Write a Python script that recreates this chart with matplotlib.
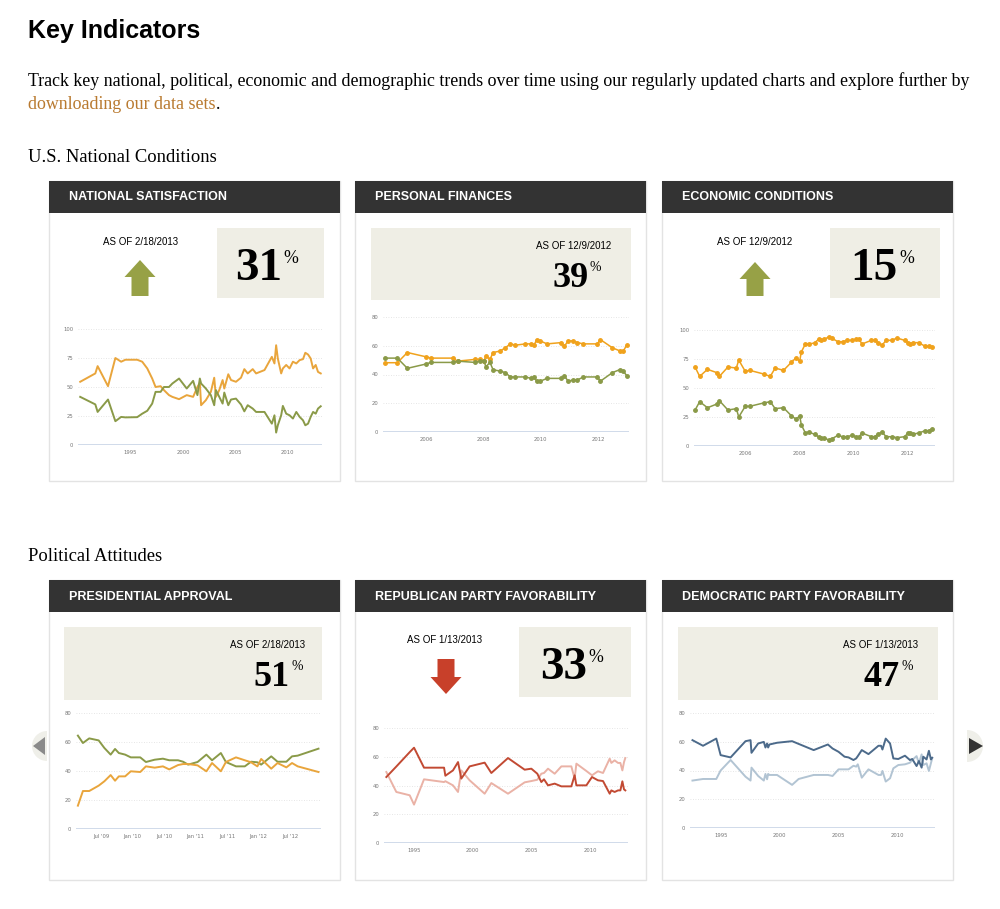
import matplotlib
matplotlib.use('Agg')
import matplotlib.pyplot as plt
import matplotlib.patches as patches
from matplotlib import font_manager

# ---- data ----
# National satisfaction (decimal years)
sat_dates = [1990.21, 1991.65, 1991.87, 1992.86, 1993.56, 1994.11, 1994.52, 1995.64, 1996.12, 1996.60,
             1997.07, 1997.39, 1997.87, 1998.19, 1998.67, 1998.99, 1999.63, 2000.36, 2000.97, 2001.38,
             2001.61, 2001.73, 2002.18, 2002.66, 2002.98, 2003.14, 2003.46, 2003.78, 2003.94, 2004.32,
             2004.58, 2005.05, 2005.53, 2005.85, 2006.17, 2006.65, 2006.97, 2007.77, 2008.47, 2008.72,
             2008.88, 2009.04, 2009.36, 2009.52, 2009.84, 2010.16, 2010.48, 2010.80, 2011.12, 2011.44,
             2011.66, 2011.92, 2012.17, 2012.40, 2012.65, 2012.87, 2013.13]
sat_dissatisfied = [54.5, 61.7, 68, 50.7, 75, 71.8, 73.5, 73.5, 71.8, 66,
                    57.3, 50, 50.7, 47.3, 43, 41.5, 39.5, 43, 41.5, 50,
                    53.6, 34.3, 38.6, 45.8, 58, 41.5, 47.3, 56, 48.7, 61,
                    56, 54.5, 58, 65.4, 61.7, 65.4, 61.7, 64.6, 76, 70.3,
                    86, 74.6, 61.7, 66, 69, 66, 71.8, 70.3, 73.2, 74,
                    79.5, 78, 74.6, 66, 69, 63, 61.7]
sat_satisfied = [41.5, 35, 28.5, 39.2, 20.5, 24.2, 23.8, 24, 27, 29.5,
                 35.7, 45.8, 45.8, 50, 50, 53, 57.3, 48.7, 55.3, 43,
                 57.3, 53, 48.7, 43, 34.3, 47.3, 41.5, 35.7, 45.2, 34.3,
                 39.2, 40, 34.9, 29, 34.3, 31.4, 28.5, 28.5, 18.4, 25.6,
                 10.7, 17, 25.6, 33.7, 27, 25.6, 22.8, 28.5, 24.2, 21.3,
                 17, 18.4, 24.2, 28.5, 27, 31.4, 33.4]

# Personal finances
fin_dates = [2004.57, 2005.00, 2005.35, 2006.00, 2006.17, 2006.93, 2007.10, 2007.71, 2007.88, 2008.02,
             2008.09, 2008.23, 2008.34, 2008.58, 2008.77, 2008.94, 2009.12, 2009.47, 2009.66, 2009.77,
             2009.86, 2009.98, 2010.22, 2010.72, 2010.82, 2010.96, 2011.13, 2011.28, 2011.49, 2011.98,
             2012.08, 2012.50, 2012.75, 2012.88, 2013.00]
fin_orange = [48.2, 48.2, 55.3, 52.3, 51.4, 51.4, 49.3, 50.5, 50.5, 49.3,
              53, 50.5, 55.3, 56.3, 58.6, 61.3, 60.4, 61.3, 61.3, 60.4,
              64.3, 63.4, 61.3, 62.2, 59.5, 63.4, 63.4, 62.2, 61.3, 61.3,
              64.3, 58.6, 56.5, 56.3, 60.4]
fin_green = [51.4, 51.4, 44.3, 47.3, 48.4, 48.4, 49.3, 48.4, 49.3, 49.3,
             45.4, 48.4, 43.3, 42.4, 41.3, 38.3, 38.3, 38.3, 37.3, 38.3,
             35.3, 35.3, 37.3, 37.3, 39.2, 35.3, 36.2, 36.2, 38.3, 38.3,
             35.3, 41.3, 43.3, 42.4, 39.2]

# Economic conditions
eco_dates = [2004.14, 2004.31, 2004.60, 2004.95, 2005.04, 2005.36, 2005.67, 2005.76, 2006.00, 2006.17,
             2006.68, 2006.93, 2007.11, 2007.42, 2007.71, 2007.89, 2008.02, 2008.08, 2008.23, 2008.35,
             2008.57, 2008.72, 2008.82, 2008.94, 2009.09, 2009.22, 2009.44, 2009.61, 2009.77, 2009.96,
             2010.11, 2010.23, 2010.33, 2010.68, 2010.80, 2010.92, 2011.07, 2011.23, 2011.44, 2011.63,
             2011.91, 2012.04, 2012.10, 2012.21, 2012.43, 2012.68, 2012.80, 2012.93]
eco_orange = [68.1, 60, 66.1, 63.2, 60, 68.1, 67.2, 74.1, 64.4, 65.2,
              62.1, 60, 67.2, 65.2, 72.1, 76.1, 73, 81, 87.9, 87.9,
              88.8, 92, 91.1, 92, 94, 92.8, 89.9, 89.9, 91.1, 91.1,
              92, 92, 87.9, 91.1, 91.1, 89.1, 86.8, 91.1, 91.1, 93.1,
              91.1, 89.1, 87.9, 89.1, 89.1, 85.9, 85.9, 85.1]
eco_green = [31, 38.2, 33, 36.2, 39.1, 31, 32.2, 25, 34.2, 34.2,
             37.1, 38.2, 32.2, 33, 26.1, 23, 26.1, 18.4, 11.2, 12.1,
             10.1, 8, 7.2, 6.9, 5.2, 6.3, 9.2, 8, 8, 9.2,
             8, 8, 11.2, 8, 8, 10.1, 12.1, 8, 8, 7.2,
             8, 11.2, 11.2, 10.1, 11.2, 13.2, 13.2, 14.9]

# Presidential approval
pres_dates = [2009.13, 2009.21, 2009.31, 2009.46, 2009.55, 2009.65, 2009.72, 2009.78, 2009.88, 2009.97,
              2010.12, 2010.21, 2010.35, 2010.48, 2010.58, 2010.72, 2010.80, 2010.88, 2011.03, 2011.17,
              2011.26, 2011.40, 2011.48, 2011.64, 2011.78, 2011.88, 2011.98, 2012.04, 2012.20, 2012.30,
              2012.44, 2012.53, 2012.62, 2012.95]
pres_green = [64.4, 59.3, 62.5, 61.1, 55.9, 51.3, 55.2, 52.4, 51.3, 49.4,
              49.4, 46.2, 47.8, 48.5, 47.4, 47.4, 46.4, 44.4, 46.2, 51.3,
              47.4, 52.4, 46.2, 43.2, 43.2, 46.4, 46, 44.4, 50.1, 46.4,
              46.4, 50.1, 50.6, 55.4]
pres_orange = [16.1, 26.2, 26.2, 29.9, 32.9, 37.2, 33.3, 36.3, 36.3, 39.8,
               39.3, 43.2, 42.3, 43.2, 41.1, 44.1, 44.8, 44.8, 43.9, 39.8,
               45.5, 39.8, 46.2, 49.4, 47.4, 46, 43.2, 48.3, 41.6, 45.5,
               42.5, 45.5, 43.2, 39.3]
pres_ticks = [2009.5, 2010, 2010.5, 2011, 2011.5, 2012, 2012.5]
pres_labels = ["Jul '09", "Jan '10", "Jul '10", "Jan '11", "Jul '11", "Jan '12", "Jul '12"]

# Republican party favorability
rep_dates = [1992.64, 1993.49, 1994.63, 1995.00, 1995.85, 1997.56, 1997.67, 1998.32, 1998.75, 1999.03,
             1999.74, 2001.02, 2001.59, 2003.01, 2004.43, 2005.00, 2005.51, 2005.85, 2006.08, 2006.42,
             2006.99, 2007.56, 2008.41, 2008.69, 2008.84, 2009.69, 2010.17, 2010.68, 2011.11, 2011.68,
             2011.82, 2012.10, 2012.39, 2012.59, 2012.76, 2012.90, 2013.01]
rep_dark = [45.9, 53.2, 63.2, 66.3, 52.4, 52.4, 46.8, 50.5, 56.3, 44.8,
            53.3, 55.9, 48.7, 59.1, 51, 51.7, 48.2, 42.4, 44.3, 40.1,
            41.3, 39.4, 39.4, 47.1, 40.1, 40.1, 45.9, 43.6, 43.1, 34.3,
            36.6, 35.5, 36.6, 36.6, 42.9, 37.3, 36.6]
rep_light = [49.4, 35.5, 33.2, 26.7, 44.3, 42.4, 43, 40.1, 35.5, 50.5,
             43.6, 34.3, 41.7, 34.3, 42.2, 43.1, 44, 48.2, 48.7, 51.7,
             48.2, 53.3, 53.3, 44.8, 55.2, 50.1, 47.1, 49.9, 48.7, 58.7,
             55.7, 57.5, 55.7, 55.7, 50.5, 56.3, 59.1]

# Democratic party favorability
dem_dates = [1992.57, 1993.47, 1994.60, 1994.97, 1995.82, 1997.09, 1997.52, 1997.60, 1998.17, 1998.65,
             1998.79, 1998.93, 1999.02, 1999.13, 1999.78, 2001.06, 2001.62, 2002.90, 2004.11, 2004.51,
             2005.02, 2005.53, 2005.87, 2006.29, 2006.52, 2006.66, 2007.00, 2007.57, 2008.42, 2008.64,
             2008.76, 2009.04, 2009.41, 2009.69, 2010.11, 2010.68, 2011.10, 2011.30, 2011.67, 2011.87,
             2012.10, 2012.24, 2012.52, 2012.72, 2012.89, 2013.00]
dem_dark = [61.1, 57.2, 62.2, 50.7, 49.1, 60.4, 61.1, 52.3, 58.8, 59.9,
            56, 58.8, 56, 58.1, 59.3, 60.4, 58.5, 54.2, 58.1, 55.3,
            53, 49.6, 49.1, 47.3, 48.4, 50, 54.2, 51.4, 57.2, 57.2,
            54.6, 62.2, 58.8, 48.4, 48, 50.3, 47.3, 48, 43.1, 46.6,
            42, 49.6, 47.7, 53.7, 47.7, 48.9]
dem_light = [33, 34.1, 34.1, 40, 47.3, 35.7, 33, 42, 36.2, 33,
             37.6, 33.9, 37.6, 36.9, 36.9, 30, 34.1, 36.9, 36.9, 36.2,
             40.8, 40.8, 40.8, 43.3, 42.7, 44.3, 35, 40.8, 36.9, 36.9,
             39.7, 32.3, 34.6, 41.5, 43.8, 44.3, 45.4, 47.3, 50, 45,
             51.2, 43.8, 45, 39.7, 45, 48.4]

year_ticks_long = [1995, 2000, 2005, 2010]
year_ticks_short = [2006, 2008, 2010, 2012]

titles = ['NATIONAL SATISFACTION', 'PERSONAL FINANCES', 'ECONOMIC CONDITIONS',
          'PRESIDENTIAL APPROVAL', 'REPUBLICAN PARTY FAVORABILITY', 'DEMOCRATIC PARTY FAVORABILITY']
as_of = ['AS OF 2/18/2013', 'AS OF 12/9/2012', 'AS OF 12/9/2012',
         'AS OF 2/18/2013', 'AS OF 1/13/2013', 'AS OF 1/13/2013']
latest = ['31', '39', '15', '51', '33', '47']

# ---- colours / fonts ----
ORANGE = '#e9a53c'
ORANGE_DOT = '#f0a21c'
GREEN = '#8a9a48'
OLIVE = '#97a146'
RED_ARROW = '#c8402a'
REP_DARK = '#c24a33'
REP_LIGHT = '#eab2a6'
DEM_DARK = '#4c6a8a'
DEM_LIGHT = '#b2c4d3'
HEADER = '#333333'
BEIGE = '#efeee5'

installed = {f.name for f in font_manager.fontManager.ttflist}
NARROW = 'Liberation Sans Narrow' if 'Liberation Sans Narrow' in installed else 'Liberation Sans'
SERIF = 'Liberation Serif'

W, H = 1000, 909
fig = plt.figure(figsize=(W / 100, H / 100), dpi=100)
fig.patch.set_facecolor('white')

# background axes in pixel coordinates (y down)
bg = fig.add_axes([0, 0, 1, 1])
bg.set_xlim(0, W)
bg.set_ylim(H, 0)
bg.axis('off')


def px_axes(x0, y0, x1, y1):
    return fig.add_axes([x0 / W, 1 - y1 / H, (x1 - x0) / W, (y1 - y0) / H])


def draw_card(x, top, title):
    bg.add_patch(patches.Rectangle((x, top), 291, 300, facecolor='white', edgecolor='#e3e3e3', lw=1, zorder=2))
    bg.add_patch(patches.Rectangle((x, top), 291, 32, facecolor=HEADER, edgecolor='none', zorder=3))
    bg.text(x + 20, top + 16.5, title, color='white', fontsize=9, fontweight='bold',
            family=NARROW, va='center', zorder=4)


def draw_arrow(cx, y0, y1, color, up=True):
    head_h, head_w, shaft_w = 17, 31, 17
    if up:
        hb = y0 + head_h
        pts = [(cx, y0), (cx + head_w / 2, hb), (cx + shaft_w / 2, hb), (cx + shaft_w / 2, y1),
               (cx - shaft_w / 2, y1), (cx - shaft_w / 2, hb), (cx - head_w / 2, hb)]
    else:
        hb = y1 - head_h
        pts = [(cx, y1), (cx + head_w / 2, hb), (cx + shaft_w / 2, hb), (cx + shaft_w / 2, y0),
               (cx - shaft_w / 2, y0), (cx - shaft_w / 2, hb), (cx - head_w / 2, hb)]
    bg.add_patch(patches.Polygon(pts, closed=True, facecolor=color, edgecolor='none', zorder=4))


def draw_value(num, num_right, baseline, size, pct_top):
    bg.text(num_right, baseline, num, family=SERIF, fontweight='bold', fontsize=size,
            ha='right', va='baseline', color='black', zorder=5)
    bg.text(num_right + 1, pct_top, '%', family=SERIF, fontsize=size * 0.38,
            ha='left', va='top', color='black', zorder=5)


def style_chart(ax, xlim, ymax, xticks, xlabels=None):
    ax.set_xlim(*xlim)
    ax.set_ylim(0, ymax)
    ax.set_yticks(range(0, ymax + 1, ymax // 4))
    ax.set_xticks(xticks)
    if xlabels is not None:
        ax.set_xticklabels(xlabels)
    for s in ax.spines.values():
        s.set_visible(False)
    ax.grid(axis='y', color='#dedede', linestyle=(0, (1, 2)), lw=0.6)
    ax.axhline(0, color='#c8d4e6', lw=1.2, zorder=1)
    ax.tick_params(length=0, labelsize=3.8, labelcolor='#777777', pad=3.5)
    ax.patch.set_alpha(0)


# ---- page text ----
bg.text(28, 38, 'Key Indicators', family=NARROW, fontweight='bold', fontsize=18, va='baseline')
bg.text(28, 86, 'Track key national, political, economic and demographic trends over time using our '
                'regularly updated charts and explore further by', family=SERIF, fontsize=12.85, va='baseline')
link = bg.text(28, 109, 'downloading our data sets', family=SERIF, fontsize=12.85, va='baseline', color='#b97a30')
fig.canvas.draw()
bb = link.get_window_extent().transformed(bg.transData.inverted())
bg.text(max(bb.x0, bb.x1), 109, '.', family=SERIF, fontsize=12.85, va='baseline')
bg.text(28, 162, 'U.S. National Conditions', family=SERIF, fontsize=13.4, va='baseline')
bg.text(28, 561, 'Political Attitudes', family=SERIF, fontsize=13.4, va='baseline')

# ---- carousel buttons ----
bg.add_patch(patches.Wedge((47, 746), 15, 90, 270, facecolor='#efefe9', edgecolor='none', zorder=1))
bg.add_patch(patches.Polygon([(33, 746), (45, 737), (45, 755)], facecolor='#8a8a8a', edgecolor='none', zorder=1))
bg.add_patch(patches.Wedge((967, 746), 16, -90, 90, facecolor='#efefe9', edgecolor='none', zorder=1))
bg.add_patch(patches.Polygon([(983, 746), (969, 738), (969, 754)], facecolor='#333333', edgecolor='none', zorder=1))

# ---- cards ----
card_x = [49, 355, 662]
tops = [181, 580]
for i, t in enumerate(titles):
    draw_card(card_x[i % 3], tops[i // 3], t)

# card 1: national satisfaction
bg.add_patch(patches.Rectangle((217, 228), 107, 70, facecolor=BEIGE, edgecolor='none', zorder=3))
bg.text(141, 242, as_of[0], family=NARROW, fontsize=7, ha='center', va='center', zorder=4)
draw_arrow(140, 260, 296, OLIVE, up=True)
draw_value(latest[0], 282, 280, 34, 250)

# card 2: personal finances
bg.add_patch(patches.Rectangle((371, 228), 260, 72, facecolor=BEIGE, edgecolor='none', zorder=3))
bg.text(611, 246, as_of[1], family=NARROW, fontsize=7, ha='right', va='center', zorder=4)
draw_value(latest[1], 589, 287, 26, 261)

# card 3: economic conditions
bg.add_patch(patches.Rectangle((830, 228), 110, 70, facecolor=BEIGE, edgecolor='none', zorder=3))
bg.text(755, 242, as_of[2], family=NARROW, fontsize=7, ha='center', va='center', zorder=4)
draw_arrow(755, 262, 296, OLIVE, up=True)
draw_value(latest[2], 898, 280, 34, 250)

# card 4: presidential approval
bg.add_patch(patches.Rectangle((64, 627), 258, 73, facecolor=BEIGE, edgecolor='none', zorder=3))
bg.text(305, 645, as_of[3], family=NARROW, fontsize=7, ha='right', va='center', zorder=4)
draw_value(latest[3], 290, 686, 26, 660)

# card 5: republican favorability
bg.add_patch(patches.Rectangle((519, 627), 112, 70, facecolor=BEIGE, edgecolor='none', zorder=3))
bg.text(445, 640, as_of[4], family=NARROW, fontsize=7, ha='center', va='center', zorder=4)
draw_arrow(446, 659, 694, RED_ARROW, up=False)
draw_value(latest[4], 587, 679, 34, 649)

# card 6: democratic favorability
bg.add_patch(patches.Rectangle((678, 627), 260, 73, facecolor=BEIGE, edgecolor='none', zorder=3))
bg.text(918, 645, as_of[5], family=NARROW, fontsize=7, ha='right', va='center', zorder=4)
draw_value(latest[5], 900, 686, 26, 660)

# ---- charts ----
ax1 = px_axes(78, 329, 322, 445)
style_chart(ax1, (1990.0, 2013.25), 100, year_ticks_long)
ax1.plot(sat_dates, sat_dissatisfied, color=ORANGE, lw=1.4, clip_on=False)
ax1.plot(sat_dates, sat_satisfied, color=GREEN, lw=1.4, clip_on=False)

ax2 = px_axes(383, 317, 629, 432)
style_chart(ax2, (2004.5, 2013.08), 80, year_ticks_short)
ax2.plot(fin_dates, fin_orange, color=ORANGE_DOT, lw=1.1, marker='o', ms=2.5, clip_on=False)
ax2.plot(fin_dates, fin_green, color=GREEN, lw=1.1, marker='o', ms=2.5, clip_on=False)

ax3 = px_axes(694, 330, 935, 446)
style_chart(ax3, (2004.1, 2013.04), 100, year_ticks_short)
ax3.plot(eco_dates, eco_orange, color=ORANGE_DOT, lw=1.1, marker='o', ms=2.5, clip_on=False)
ax3.plot(eco_dates, eco_green, color=GREEN, lw=1.1, marker='o', ms=2.5, clip_on=False)

ax4 = px_axes(76, 713, 321, 829)
style_chart(ax4, (2009.1, 2012.99), 80, pres_ticks, pres_labels)
ax4.plot(pres_dates, pres_green, color=GREEN, lw=1.4, clip_on=False)
ax4.plot(pres_dates, pres_orange, color=ORANGE, lw=1.4, clip_on=False)

ax5 = px_axes(384, 728, 628, 843)
style_chart(ax5, (1992.44, 2013.24), 80, year_ticks_long)
ax5.plot(rep_dates, rep_light, color=REP_LIGHT, lw=1.4, clip_on=False)
ax5.plot(rep_dates, rep_dark, color=REP_DARK, lw=1.4, clip_on=False)

ax6 = px_axes(690, 713, 935, 828)
style_chart(ax6, (1992.36, 2013.24), 80, year_ticks_long)
ax6.plot(dem_dates, dem_light, color=DEM_LIGHT, lw=1.4, clip_on=False)
ax6.plot(dem_dates, dem_dark, color=DEM_DARK, lw=1.4, clip_on=False)

fig.savefig('out.png', dpi=100, facecolor='white')
